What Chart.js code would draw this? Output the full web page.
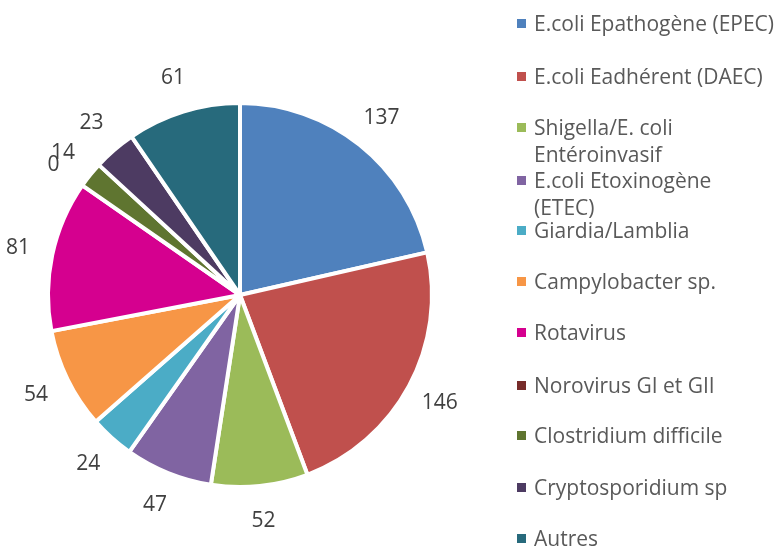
<!DOCTYPE html>
<html><head><meta charset="utf-8">
<script src="https://cdn.jsdelivr.net/npm/chart.js@4"></script>
<style>
html,body{margin:0;padding:0;background:#fff;overflow:hidden;width:779px;height:547px;}
#wrap{position:absolute;left:0;top:45px;width:480px;height:500px;}
#legend{position:absolute;left:0;top:0;width:779px;height:547px;}
.item{position:absolute;left:517px;font-family:'Open Sans', sans-serif;font-size:21px;color:#595959;line-height:27px;white-space:nowrap;}
.sw{position:absolute;left:0;top:9px;width:9px;height:9px;}
.txt{position:absolute;left:17px;top:0;}
</style></head>
<body>
<div id="wrap"><canvas id="c"></canvas></div>
<div id="legend"></div>
<script>
const categories = ['E.coli Epathogène (EPEC)','E.coli Eadhérent (DAEC)','Shigella/E. coli Entéroinvasif','E.coli Etoxinogène (ETEC)','Giardia/Lamblia','Campylobacter sp.','Rotavirus','Norovirus GI et GII','Clostridium difficile','Cryptosporidium sp','Autres'];
const values = [137,146,52,47,24,54,81,0,14,23,61];
const colors = ['#4F81BD','#C0504D','#9BBB59','#8064A2','#4BACC6','#F79646','#D5008F','#772C2A','#5F7530','#4D3B62','#276A7C'];

const LEG_FONT = "21px 'Open Sans', sans-serif";
const LBL_FONT = "21px 'Open Sans', sans-serif";
const LBL_COLOR = '#404040';

// legend (HTML, wrapped like the original)
const legendSlots = [23.3,76,127.7,180,230,281.7,332.3,385,435.7,487.3,538.3];
const mctx = document.createElement('canvas').getContext('2d');
mctx.font = LEG_FONT;
const wrapWidth = mctx.measureText(categories[0]).width + 0.5;
function wrapText(t){
  if (mctx.measureText(t).width <= wrapWidth) return [t];
  const words = t.split(' '); const lines=[]; let cur='';
  words.forEach(w=>{
    const test = cur ? cur+' '+w : w;
    if (mctx.measureText(test).width > wrapWidth && cur){ lines.push(cur); cur=w; } else cur=test;
  });
  if (cur) lines.push(cur);
  return lines;
}
const leg = document.getElementById('legend');
categories.forEach((cat,i)=>{
  const d = document.createElement('div'); d.className='item';
  d.style.top = (legendSlots[i]-13.5)+'px';
  const sw = document.createElement('div'); sw.className='sw'; sw.style.background=colors[i];
  const tx = document.createElement('div'); tx.className='txt';
  wrapText(cat).forEach((ln,k)=>{ if(k) tx.appendChild(document.createElement('br')); tx.appendChild(document.createTextNode(ln)); });
  d.appendChild(sw); d.appendChild(tx); leg.appendChild(d);
});

const outLabels = {
  id:'outLabels',
  afterDraw(chart){
    const ctx = chart.ctx; const meta = chart.getDatasetMeta(0);
    ctx.save(); ctx.font = LBL_FONT; ctx.fillStyle = LBL_COLOR; ctx.textAlign='center'; ctx.textBaseline='middle';
    meta.data.forEach((arc,i)=>{
      const a = (arc.startAngle+arc.endAngle)/2; const r = arc.outerRadius + 35;
      ctx.fillText(String(values[i]), arc.x+Math.cos(a)*r, arc.y+Math.sin(a)*r);
    });
    ctx.restore();
  }
};

new Chart(document.getElementById('c'), {
  type:'pie',
  data:{ labels: categories, datasets:[{ data: values, backgroundColor: colors, borderColor:'#ffffff', borderWidth:4 }] },
  options:{
    responsive:true, maintainAspectRatio:false, animation:false,
    radius: 192,
    layout:{padding:0},
    plugins:{ legend:{display:false}, tooltip:{enabled:false} }
  },
  plugins:[outLabels]
});
</script>
</body></html>
